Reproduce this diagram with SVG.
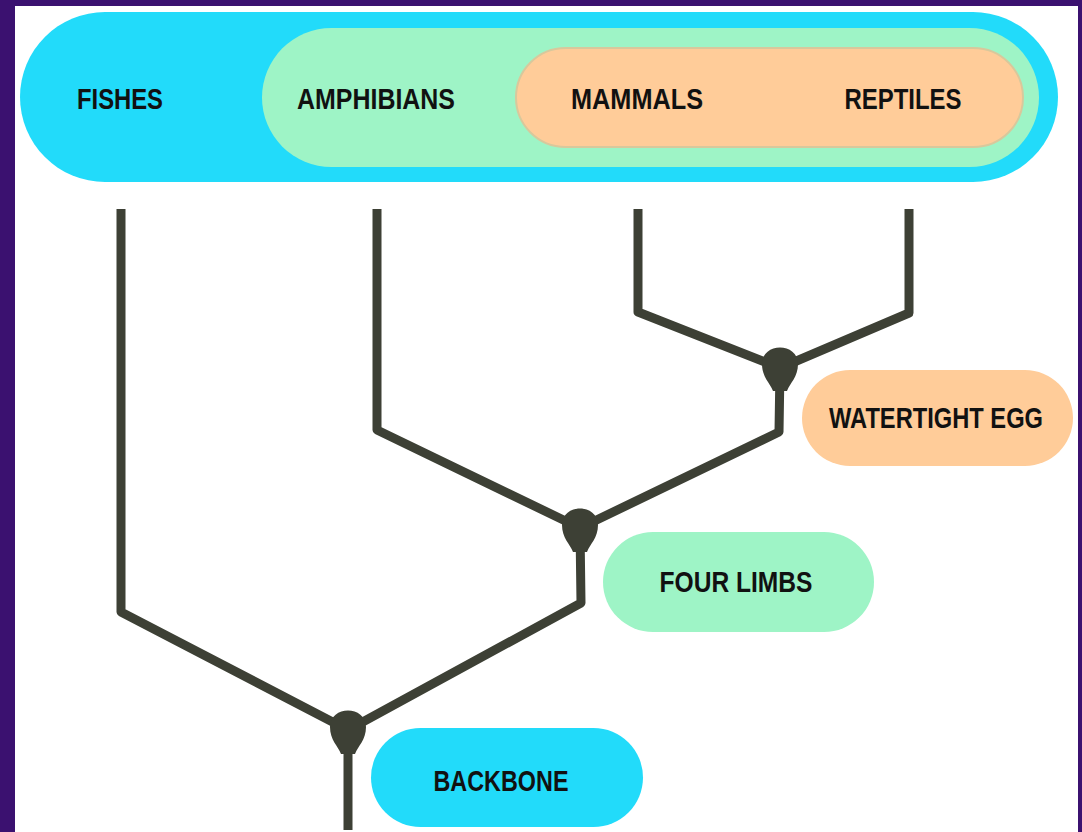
<svg xmlns="http://www.w3.org/2000/svg" width="1082" height="832" viewBox="0 0 1082 832">
<style>
.lbl{font-family:"Liberation Sans",Arial,sans-serif;font-weight:bold;font-size:30px;fill:#111;}
.blue{fill:#22DBFA;}
.green{fill:#9EF4C6;}
.orange{fill:#FFCC99;}
.line{fill:none;stroke:#3D4035;stroke-width:9;stroke-linejoin:round;stroke-linecap:butt;}
.blob{fill:#3D4035;}
</style>
<defs>
<path id="blob" d="M-18,-4 C-18,-26 18,-26 18,-4 C18,9 10,15 7,23 L-7,23 C-10,15 -18,9 -18,-4 Z"/>
</defs>
<rect x="0" y="0" width="1082" height="832" fill="#3B1170"/>
<rect x="15" y="6" width="1063" height="826" fill="#FFFFFF"/>

<g id="groups">
<g id="vertebrates">
<rect class="blue" x="20" y="12" width="1038" height="170" rx="85" ry="85"/>
</g>
<g id="tetrapods">
<rect class="green" x="262" y="28" width="777" height="139" rx="69.5" ry="69.5"/>
</g>
<g id="amniotes">
<rect class="orange" x="516" y="48" width="507" height="99" rx="49.5" ry="49.5" stroke="#D8C89C" stroke-width="2"/>
</g>
</g>

<g id="fishes"><text class="lbl" x="120" y="109" text-anchor="middle" textLength="86" lengthAdjust="spacingAndGlyphs">FISHES</text></g>
<g id="amphibians"><text class="lbl" x="376" y="109" text-anchor="middle" textLength="158" lengthAdjust="spacingAndGlyphs">AMPHIBIANS</text></g>
<g id="mammals"><text class="lbl" x="637" y="109" text-anchor="middle" textLength="132" lengthAdjust="spacingAndGlyphs">MAMMALS</text></g>
<g id="reptiles"><text class="lbl" x="903" y="109" text-anchor="middle" textLength="117" lengthAdjust="spacingAndGlyphs">REPTILES</text></g>

<g id="connectors">
<path class="line" d="M121,209 L121,612 L348,730 L348,830"/>
<path class="line" d="M377,209 L377,430 L580,528 L581,603 L348,730"/>
<path class="line" d="M638,209 L638,312 L780,368 L909,313 L909,209"/>
<path class="line" d="M780,368 L779,432 L580,528"/>
</g>

<g id="node-backbone">
<use href="#blob" class="blob" x="348" y="731"/>
<rect class="blue" x="371" y="728" width="272" height="99" rx="49.5" ry="49.5"/>
<text class="lbl" x="501" y="791" text-anchor="middle" textLength="135" lengthAdjust="spacingAndGlyphs">BACKBONE</text>
</g>
<g id="node-four-limbs">
<use href="#blob" class="blob" x="580" y="529"/>
<rect class="green" x="603" y="532" width="271" height="100" rx="50" ry="50"/>
<text class="lbl" x="736" y="592" text-anchor="middle" textLength="153" lengthAdjust="spacingAndGlyphs">FOUR LIMBS</text>
</g>
<g id="node-watertight-egg">
<use href="#blob" class="blob" x="780" y="368"/>
<rect class="orange" x="802" y="370" width="271" height="96" rx="48" ry="48"/>
<text class="lbl" x="936" y="428" text-anchor="middle" textLength="214" lengthAdjust="spacingAndGlyphs">WATERTIGHT EGG</text>
</g>
</svg>
